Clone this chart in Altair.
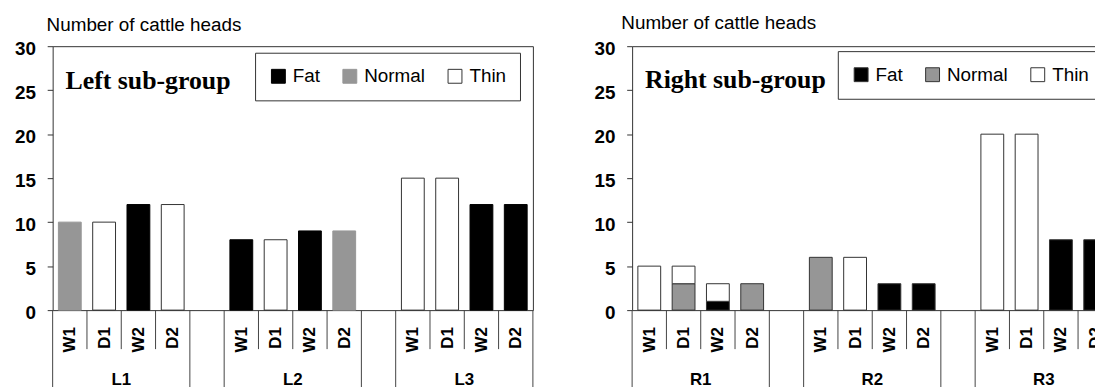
import altair as alt
import pandas as pd

# ---------------- data ----------------
slot_labels = ["W1", "D1", "W2", "D2"]
conditions = ["Fat", "Normal", "Thin"]
cond_order = [0, 1, 2]

left_sites = ["L1", "L2", "L3"]
left_site = ["L1", "L1", "L1", "L1", "L2", "L2", "L2", "L2", "L3", "L3", "L3", "L3"]
left_slot = ["W1", "D1", "W2", "D2", "W1", "D1", "W2", "D2", "W1", "D1", "W2", "D2"]
left_cond = ["Normal", "Thin", "Fat", "Thin", "Fat", "Thin", "Fat", "Normal", "Thin", "Thin", "Fat", "Fat"]
left_count = [10, 10, 12, 12, 8, 8, 9, 9, 15, 15, 12, 12]

right_sites = ["R1", "R2", "R3"]
right_site = ["R1", "R1", "R1", "R1", "R1", "R1", "R2", "R2", "R2", "R2", "R3", "R3", "R3", "R3"]
right_slot = ["W1", "D1", "D1", "W2", "W2", "D2", "W1", "D1", "W2", "D2", "W1", "D1", "W2", "D2"]
right_cond = ["Thin", "Normal", "Thin", "Fat", "Thin", "Normal", "Normal", "Thin", "Fat", "Fat", "Thin", "Thin", "Fat", "Fat"]
right_count = [5, 3, 2, 1, 2, 3, 6, 6, 3, 3, 20, 20, 8, 8]

y_ticks = [0, 5, 10, 15, 20, 25, 30]

# ---------------- styling ----------------
SANS = "Liberation Sans"
SERIF = "Liberation Serif"
FRAME = "#333333"
SEP = "#444444"
fill_range = ["#000000", "#969696", "#ffffff"]
W, H = 484, 266
BAR_W = 23


def panel(sites, site, slot, cond, count, sub_title, stroke_range,
          title_x, title_y, legend_x, legend_y, text_y):
    # slot order: 4 slots per site, one empty slot between sites
    slot_index = {}
    centers, long_b, group_c = [], [], []
    i = 0
    for k, s in enumerate(sites):
        long_b.append(i)
        for l in slot_labels:
            slot_index[(s, l)] = i
            centers.append(i + 0.5)
            i += 1
        long_b.append(i)
        group_c.append(i - 2)
        if k < len(sites) - 1:
            i += 1
    n = i
    short_b = [b for b in range(n + 1) if b not in long_b]
    center_labels = slot_labels * len(sites)

    df = pd.DataFrame({
        "pos": [slot_index[(a, b)] + 0.5 for a, b in zip(site, slot)],
        "cond": cond,
        "count": count,
        "ord": [cond_order[conditions.index(c)] for c in cond],
    })

    xscale = alt.Scale(domain=[0, n], nice=False, zero=False, padding=0)
    label_expr = " : ".join(
        [f"datum.value == {c} ? '{t}'" for c, t in zip(centers, center_labels)]) + " : ''"

    legend = alt.Legend(
        orient="none", legendX=legend_x, legendY=legend_y, direction="horizontal",
        title=None, symbolType="square", symbolSize=196, symbolStrokeWidth=1,
        symbolStrokeColor=FRAME,
        labelFont=SANS, labelFontSize=19, labelColor="black", labelOffset=5,
        columnPadding=20, padding=14, strokeColor=FRAME, fillColor="white",
        cornerRadius=0,
    )

    bars = alt.Chart(df).mark_bar(strokeWidth=1, size=BAR_W).encode(
        x=alt.X("pos:Q", title=None, scale=xscale,
                axis=alt.Axis(
                    values=centers, labelExpr=label_expr, ticks=False,
                    labelAngle=270, labelAlign="right", labelBaseline="middle",
                    labelFont=SANS, labelFontSize=17, labelFontWeight="bold", labelColor="black",
                    labelPadding=16.6, domain=False, grid=False,
                    labelOverlap=False, labelFlush=False,
                )),
        y=alt.Y("count:Q", stack="zero", title="Number of cattle heads",
                scale=alt.Scale(domain=[0, 30], nice=False),
                axis=alt.Axis(
                    values=y_ticks, tickSize=5.5, tickColor=FRAME, domain=False, grid=False,
                    labelFont=SANS, labelFontSize=19, labelFontWeight="bold", labelColor="black",
                    labelPadding=11.8, labelOffset=2,
                    titleAngle=0, titleAlign="left", titleBaseline="alphabetic",
                    titleX=title_x, titleY=title_y, titleFont=SANS, titleFontSize=19,
                    titleFontWeight="normal", titleColor="black",
                )),
        fill=alt.Fill("cond:N", scale=alt.Scale(domain=conditions, range=fill_range), legend=legend),
        stroke=alt.Stroke("cond:N", scale=alt.Scale(domain=conditions, range=stroke_range), legend=None),
        order=alt.Order("ord:Q"),
    )

    short_rules = alt.Chart(pd.DataFrame({"b": short_b})).mark_rule(
        color=SEP, strokeWidth=1
    ).encode(x=alt.X("b:Q", scale=xscale), y=alt.value(H), y2=alt.value(H + 39.3))

    long_rules = alt.Chart(pd.DataFrame({"b": long_b})).mark_rule(
        color=SEP, strokeWidth=1
    ).encode(x=alt.X("b:Q", scale=xscale), y=alt.value(H), y2=alt.value(H + 100))

    group_text = alt.Chart(pd.DataFrame({"c": group_c, "site": sites})).mark_text(
        font=SANS, fontSize=17, fontWeight="bold", color="black", baseline="top", align="center"
    ).encode(x=alt.X("c:Q", scale=xscale), y=alt.value(H + 62), text="site:N")

    txt = alt.Chart(pd.DataFrame({"t": [sub_title]})).mark_text(
        align="left", baseline="alphabetic", font=SERIF, fontSize=26, fontWeight="bold",
        color="black",
    ).encode(x=alt.value(13), y=alt.value(text_y), text="t:N")

    return alt.layer(bars, short_rules, long_rules, group_text, txt).properties(width=W, height=H)


left = panel(left_sites, left_site, left_slot, left_cond, left_count, "Left sub-group",
             ["#000000", "#969696", FRAME], -6.6, -16.2, 204, 6.6, 43.6)
right = panel(right_sites, right_site, right_slot, right_cond, right_count, "Right sub-group",
              [FRAME, FRAME, FRAME], -11.4, -17.8, 207.3, 5, 42)

chart = alt.hconcat(left, right, spacing=60).resolve_scale(
    fill="independent", stroke="independent"
).properties(
    padding={"left": 6, "top": 3, "right": -18.5, "bottom": -25.5}, background="white"
).configure_view(stroke=FRAME, strokeWidth=1, fill="white")

chart.save("out.html", embed_options={"renderer": "svg", "actions": False})
